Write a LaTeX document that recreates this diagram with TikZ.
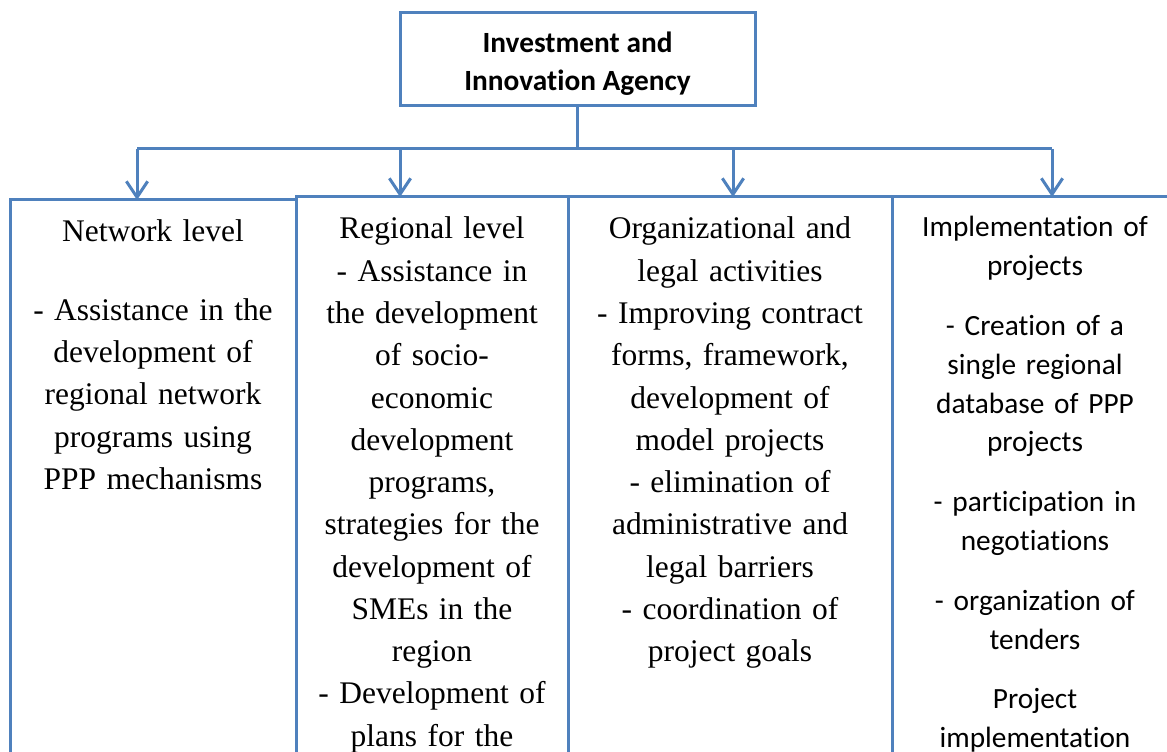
\documentclass[tikz,border=0pt]{standalone}
\usepackage{fontspec}
\setmainfont{Liberation Serif}
\newfontfamily\calibri[Ligatures=NoCommon]{Carlito}
\usetikzlibrary{arrows.meta}
\definecolor{frame}{RGB}{79,129,189}

\begin{document}
\begin{tikzpicture}[x=0.75pt,y=-0.75pt,
  line/.style={draw=frame, line width=2.25pt},
  arrowline/.style={line, -{Straight Barb[length=12pt,width=16pt]}},
  panel/.style={line, fill=white, anchor=north west, inner sep=0pt, outer sep=0pt, minimum height=450pt},
  serifbody/.style={anchor=base, inner sep=0pt, text width=250pt, align=center,
    font=\fontsize{23.6pt}{31.7pt}\selectfont},
  sansbody/.style={anchor=base, inner sep=0pt, text width=250pt, align=center,
    font=\calibri\fontsize{22pt}{29.1pt}\selectfont},
  headbox/.style={line, inner sep=0pt, outer sep=0pt, minimum width=266.25pt, minimum height=69.75pt,
    align=center, font=\calibri\bfseries\fontsize{22pt}{28.5pt}\selectfont}]
\clip (0,0) rectangle (1167,752);

% four panels, open at the bottom
\node[panel, minimum width=214.5pt] (b1) at (10,200) {};
\node[panel, minimum width=204pt] (b2) at (296,197) {};
\node[panel, minimum width=243pt] (b3) at (568,197) {};
\node[panel, minimum width=216pt] (b4) at (892,197) {};

% agency box
\node[headbox] (agency) at (577.5,59.5) {\rule{0pt}{21.5pt}Investment and\\Innovation Agency};

% distribution bar
\coordinate (barL) at (137,149);
\coordinate (barR) at (1052,149);
\coordinate (a2) at (400,149);
\coordinate (a3) at (733,149);
\draw[line] (agency.south) -- (agency.south |- barL);
\draw[line] (barL) -- (barR);
\draw[arrowline] (barL) -- (barL |- b1.north);
\draw[arrowline] (a2) -- (a2 |- b2.north);
\draw[arrowline] (a3) -- (a3 |- b3.north);
\draw[arrowline] (barR) -- (barR |- b4.north);

% panel contents
\node[serifbody] (t1) at (153,242) {Network level\\[27pt]
- Assistance in the\\ development of\\ regional network\\ programs using\\ PPP mechanisms};
\node[serifbody] (t2) at (432,239) {Regional level\\
- Assistance in\\ the development\\ of socio-\\ economic\\ development\\ programs,\\
strategies for the\\ development of\\ SMEs in the\\ region\\ - Development of\\ plans for the};
\node[serifbody] (t3) at (730,239) {Organizational and\\ legal activities\\
- Improving contract\\ forms, framework,\\ development of\\ model projects\\
- elimination of\\ administrative and\\ legal barriers\\ - coordination of\\ project goals};
\node[sansbody] (t4) at (1035,237) {Implementation of\\ projects\\[15.75pt]
- Creation of a\\ single regional\\ database of PPP\\ projects\\[15.75pt]
- participation in\\ negotiations\\[15.75pt]
- organization of\\ tenders\\[15.75pt]
Project\\ implementation};
\end{tikzpicture}
\end{document}
